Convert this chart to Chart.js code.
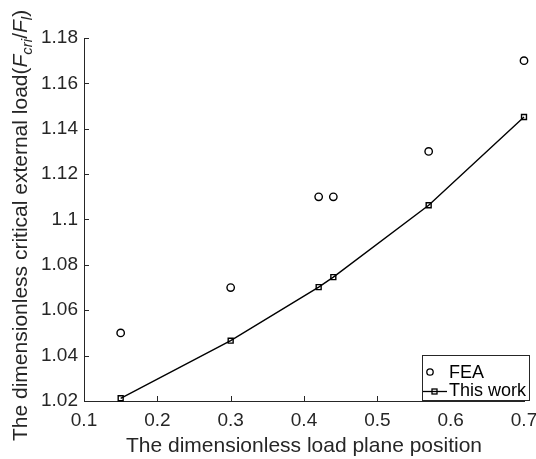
<!DOCTYPE html>
<html>
<head>
<meta charset="utf-8">
<script src="https://cdn.jsdelivr.net/npm/chart.js@4/dist/chart.umd.min.js"></script>
<style>
  html, body { margin: 0; padding: 0; background: #fff; }
  #wrap { width: 536px; height: 459px; position: relative; }
</style>
</head>
<body>
<div id="wrap"><canvas id="c" width="536" height="459"></canvas></div>
<script>
// ---- data ----
const positions = [0.15, 0.30, 0.42, 0.44, 0.57, 0.70];
const feaValues = [1.05, 1.07, 1.11, 1.11, 1.13, 1.17];
const thisWorkValues = [1.0212, 1.0466, 1.0702, 1.0746, 1.1063, 1.1452];
const xTicks = [0.1, 0.2, 0.3, 0.4, 0.5, 0.6, 0.7];
const yTicks = [1.02, 1.04, 1.06, 1.08, 1.1, 1.12, 1.14, 1.16, 1.18];
const seriesNames = ['FEA', 'This work'];
const xTitle = 'The dimensionless load plane position';
const yTitleMain = 'The dimensionless critical external load(';

const TXT = '#262626';
const FONT = '"Liberation Sans", Arial, sans-serif';

const toPts = (xs, ys) => xs.map((x, i) => ({ x: x, y: ys[i] }));

const area = { left: 84, right: 524, top: 38, bottom: 401 };

const customPlugin = {
  id: 'custom',
  afterDraw(chart) {
    const ctx = chart.ctx;
    const xs = chart.scales.x, ys = chart.scales.y;
    ctx.save();
    ctx.strokeStyle = TXT;
    ctx.lineWidth = 1;
    // inward ticks
    xTicks.forEach(v => {
      const px = Math.round(xs.getPixelForValue(v)) + 0.5;
      ctx.beginPath();
      ctx.moveTo(px, area.bottom);
      ctx.lineTo(px, area.bottom - 5);
      ctx.stroke();
    });
    yTicks.forEach(v => {
      const py = Math.round(ys.getPixelForValue(v)) + 0.5;
      ctx.beginPath();
      ctx.moveTo(area.left, py);
      ctx.lineTo(area.left + 5, py);
      ctx.stroke();
    });
    // x title
    ctx.fillStyle = TXT;
    ctx.font = '21px ' + FONT;
    ctx.textAlign = 'center';
    ctx.textBaseline = 'alphabetic';
    ctx.fillText(xTitle, 304, 452);

    // y title with sub-scripts
    ctx.save();
    ctx.translate(27, 441);
    ctx.rotate(-Math.PI / 2);
    ctx.textAlign = 'left';
    let x = 0;
    const pieces = [
      { t: yTitleMain, f: '21px ' + FONT, dy: 0 },
      { t: 'F', f: 'italic 21px ' + FONT, dy: 0 },
      { t: 'cri', f: 'italic 15px ' + FONT, dy: 5 },
      { t: '/', f: '21px ' + FONT, dy: 0 },
      { t: 'F', f: 'italic 21px ' + FONT, dy: 0 },
      { t: 'l', f: 'italic 15px ' + FONT, dy: 5 },
      { t: ')', f: '21px ' + FONT, dy: 0 }
    ];
    pieces.forEach(p => {
      ctx.font = p.f;
      ctx.fillText(p.t, x, p.dy);
      x += ctx.measureText(p.t).width;
    });
    ctx.restore();

    // legend
    const L = { x: 422, y: 355, w: 108, h: 46 };
    ctx.fillStyle = '#fff';
    ctx.fillRect(L.x, L.y, L.w, L.h);
    ctx.strokeStyle = TXT;
    ctx.lineWidth = 1;
    ctx.strokeRect(L.x + 0.5, L.y + 0.5, L.w - 1, L.h - 1);
    ctx.font = '18px ' + FONT;
    ctx.textAlign = 'left';
    ctx.textBaseline = 'middle';
    // FEA
    ctx.strokeStyle = '#000';
    ctx.lineWidth = 1.3;
    ctx.beginPath();
    ctx.arc(430, 372, 3.2, 0, Math.PI * 2);
    ctx.stroke();
    ctx.fillStyle = '#000';
    ctx.fillText(seriesNames[0], 449, 373);
    // This work
    ctx.beginPath();
    ctx.moveTo(423, 391.5);
    ctx.lineTo(447, 391.5);
    ctx.stroke();
    ctx.strokeRect(432, 389, 5, 5);
    ctx.fillText(seriesNames[1], 449, 391);
    ctx.restore();
  }
};

new Chart(document.getElementById('c'), {
  type: 'scatter',
  data: {
    datasets: [
      {
        label: seriesNames[0],
        data: toPts(positions, feaValues),
        showLine: false,
        clip: false,
        pointStyle: 'circle',
        pointRadius: 3.7,
        pointBorderWidth: 1.4,
        pointBorderColor: '#000',
        pointBackgroundColor: 'rgba(0,0,0,0)'
      },
      {
        label: seriesNames[1],
        data: toPts(positions, thisWorkValues),
        showLine: true,
        clip: false,
        borderColor: '#000',
        borderWidth: 1.4,
        pointStyle: 'rect',
        pointRadius: 3.5,
        pointBorderWidth: 1.4,
        pointBorderColor: '#000',
        pointBackgroundColor: 'rgba(0,0,0,0)'
      }
    ]
  },
  options: {
    responsive: false,
    animation: false,
    layout: { padding: { left: 0, right: 536 - area.right, top: area.top, bottom: 0 } },
    plugins: { legend: { display: false }, tooltip: { enabled: false } },
    scales: {
      x: {
        type: 'linear',
        min: 0.1, max: 0.7,
        afterBuildTicks: s => { s.ticks = xTicks.map(v => ({ value: v })); },
        afterFit: s => { s.height = 459 - area.bottom; s.paddingLeft = 0; s.paddingRight = 0; },
        grid: { display: false, drawTicks: false },
        border: { display: true, color: TXT, width: 1 },
        ticks: {
          color: TXT, padding: 8,
          font: { family: FONT, size: 19 },
          callback: v => String(Number(v.toFixed(2)))
        }
      },
      y: {
        type: 'linear',
        min: 1.02, max: 1.18,
        afterBuildTicks: s => { s.ticks = yTicks.map(v => ({ value: v })); },
        afterFit: s => { s.width = area.left; s.paddingTop = 0; s.paddingBottom = 0; },
        grid: { display: false, drawTicks: false },
        border: { display: true, color: TXT, width: 1 },
        ticks: {
          color: TXT, padding: 6,
          font: { family: FONT, size: 19 },
          callback: v => String(Number(v.toFixed(2)))
        }
      }
    }
  },
  plugins: [customPlugin]
});
</script>
</body>
</html>
